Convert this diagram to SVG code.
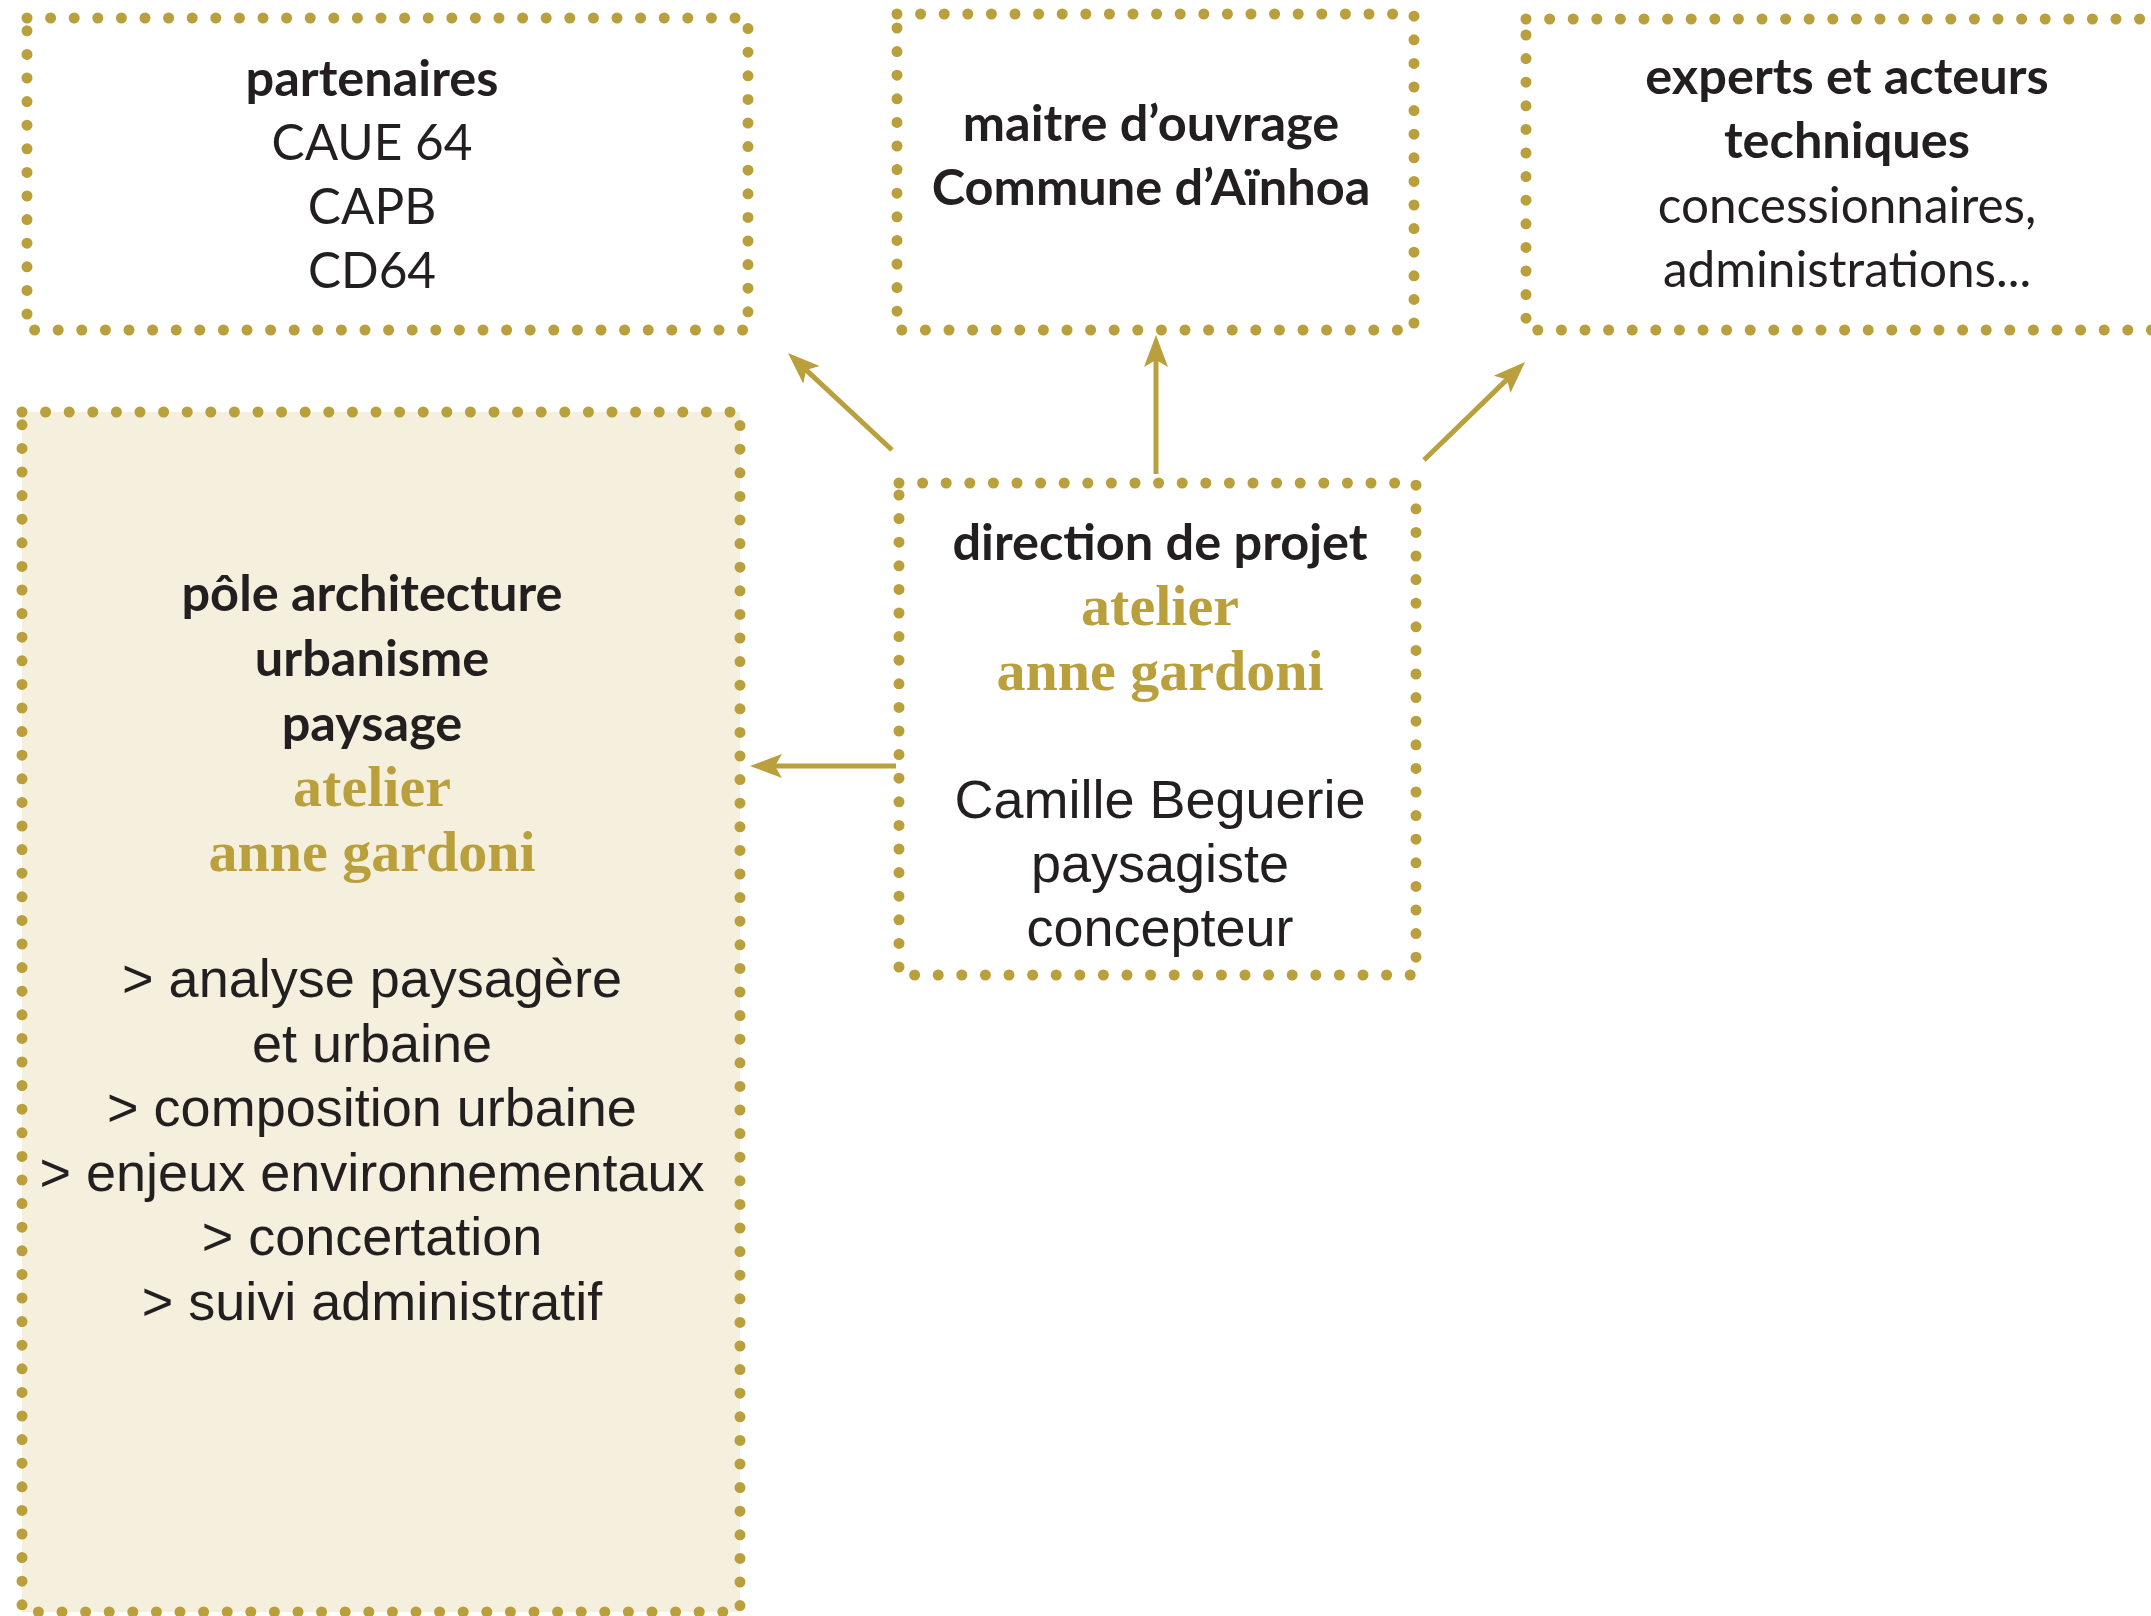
<svg xmlns="http://www.w3.org/2000/svg" width="2151" height="1616" viewBox="0 0 2151 1616">
<style>
.box { fill: none; stroke: #B9A03C; stroke-width: 11; stroke-dasharray: 0 23.6; stroke-linecap: round; }
.fillp { fill: #F5F0DD; stroke: none; }
.b { font-family: Lato, "Open Sans", sans-serif; font-weight: 700; font-size: 50.5px; fill: #231F20; text-anchor: middle; }
.r { font-family: Lato, "Open Sans", sans-serif; font-weight: 400; font-size: 49.5px; fill: #231F20; text-anchor: middle; }
.g { font-family: "Liberation Serif", "Times New Roman", serif; font-weight: 700; font-size: 58px; fill: #B9A03C; text-anchor: middle; }
.a { font-family: "Liberation Sans", Arial, sans-serif; font-size: 54px; fill: #231F20; text-anchor: middle; }
.conn { stroke: #B9A03C; stroke-width: 5; fill: none; marker-end: url(#ah); }
</style>
<defs>
<marker id="ah" markerUnits="userSpaceOnUse" markerWidth="34" markerHeight="28" viewBox="0 0 34 28" refX="7" refY="13" orient="auto">
<path d="M0,1 L32,13 L0,25 L7,13 Z" fill="#B9A03C"/>
</marker>
</defs>
<rect width="2151" height="1616" fill="#FFFFFF"/>

<g id="partenaires">
<rect class="box" x="27" y="18" width="721" height="312"/>
<text class="b" x="372" y="96">partenaires</text>
<text class="r" x="372" y="160">CAUE 64</text>
<text class="r" x="372" y="224">CAPB</text>
<text class="r" x="372" y="288">CD64</text>
</g>

<g id="maitre-ouvrage">
<rect class="box" x="897" y="14" width="517" height="316"/>
<text class="b" x="1151" y="141">maitre d’ouvrage</text>
<text class="b" x="1151" y="205">Commune d’Aïnhoa</text>
</g>

<g id="experts">
<rect class="box" x="1526" y="19" width="700" height="311"/>
<text class="b" x="1847" y="94">experts et acteurs</text>
<text class="b" x="1847" y="158">techniques</text>
<text class="r" x="1847" y="223">concessionnaires,</text>
<text class="r" x="1847" y="287">administrations...</text>
</g>

<g id="pole">
<rect class="fillp" x="22" y="412" width="718" height="1200"/>
<rect class="box" x="22" y="412" width="718" height="1200"/>
<text class="b" x="372" y="611">pôle architecture</text>
<text class="b" x="372" y="676">urbanisme</text>
<text class="b" x="372" y="741">paysage</text>
<text class="g" x="372" y="806">atelier</text>
<text class="g" x="372" y="871">anne gardoni</text>
<text class="a" x="372" y="997">&gt; analyse paysagère</text>
<text class="a" x="372" y="1062">et urbaine</text>
<text class="a" x="372" y="1126">&gt; composition urbaine</text>
<text class="a" x="372" y="1191">&gt; enjeux environnementaux</text>
<text class="a" x="372" y="1255">&gt; concertation</text>
<text class="a" x="372" y="1320">&gt; suivi administratif</text>
</g>

<g id="direction">
<rect class="box" x="899" y="483" width="517" height="492"/>
<text class="b" x="1160" y="560">direction de projet</text>
<text class="g" x="1160" y="625">atelier</text>
<text class="g" x="1160" y="690">anne gardoni</text>
<text class="a" x="1160" y="818">Camille Beguerie</text>
<text class="a" x="1160" y="882">paysagiste</text>
<text class="a" x="1160" y="946">concepteur</text>
</g>

<g id="connectors">
<line class="conn" x1="892" y1="450" x2="806.3" y2="370.1"/>
<line class="conn" x1="1156" y1="474" x2="1156" y2="360"/>
<line class="conn" x1="1424" y1="460" x2="1507.1" y2="379.4"/>
<line class="conn" x1="896" y1="766" x2="775" y2="766"/>
</g>
</svg>
